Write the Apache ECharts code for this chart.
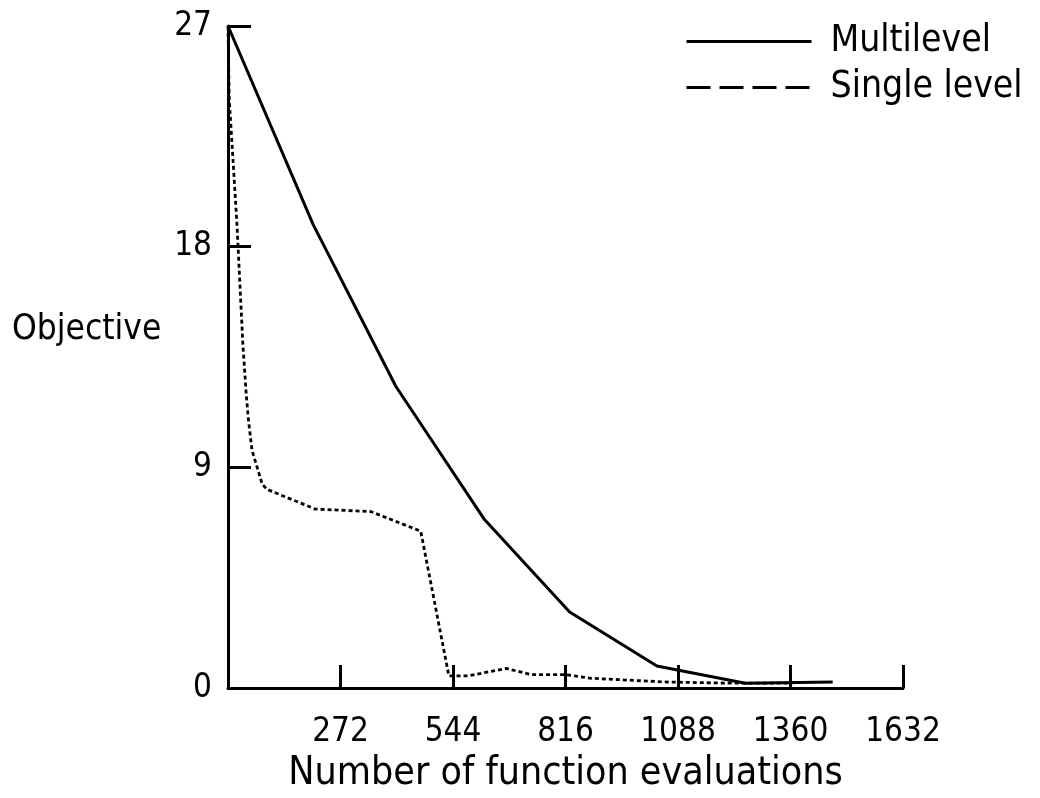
<!DOCTYPE html>
<html>
	<head>
		<meta charset="utf-8">
		<title>Objective vs function evaluations</title>
		<style type="text/css">
			html, body {
				margin: 0;
				padding: 0;
				background: #fff;
			}

			#chart {
				width: 1040px;
				height: 798px;
			}
		</style>
	</head>
	<body>
		<div id="chart"></div>

		<script src="https://cdn.jsdelivr.net/npm/echarts@6/dist/echarts.min.js"></script>
		<script>
			// 数据
			var xTicks = [0, 272, 544, 816, 1088, 1360, 1632];
			var yTicks = [0, 9, 18, 27];

			var multiX = [0, 206, 406, 619, 826, 1037, 1251, 1462];
			var multiY = [27, 18.9, 12.3, 6.9, 3.1, 0.9, 0.2, 0.25];

			var singleX = [0, 3, 13, 22, 29, 36, 44, 49, 58, 83, 95, 211, 345, 466, 534, 580, 673, 733, 814, 879, 1056, 1219, 1365];
			var singleY = [27, 24, 21.3, 18.8, 16.4, 14, 12, 11, 9.7, 8.3, 8.1, 7.3, 7.2, 6.4, 0.5, 0.5, 0.8, 0.55, 0.55, 0.4, 0.25, 0.2, 0.2];

			function pairs(xs, ys) {
				var out = [];
				for (var i = 0; i < xs.length; i++) {
					out.push([xs[i], ys[i]]);
				}
				return out;
			}

			var font = '"DejaVu Sans Condensed", "DejaVu Sans", sans-serif';

			var myChart = echarts.init(document.getElementById('chart'));

			var option = {
				animation: false,
				color: ['#000', '#000'],
				textStyle: {
					fontFamily: font,
					color: '#000'
				},
				legend: {
					orient: 'vertical',
					left: 680,
					top: 18,
					itemWidth: 125,
					itemHeight: 34,
					itemGap: 9,
					itemStyle: { opacity: 0 },
					textStyle: {
						fontFamily: font,
						fontSize: 37,
						color: '#000',
						padding: [0, 0, 0, 14]
					},
					data: [{
						name: 'Multilevel',
						lineStyle: { type: 'solid', width: 3, color: '#000' }
					}, {
						name: 'Single level',
						lineStyle: { type: [24, 9], width: 3, color: '#000' }
					}]
				},
				grid: {
					left: 228,
					top: 26,
					right: 137,
					bottom: 106
				},
				xAxis: {
					type: 'value',
					min: xTicks[0],
					max: xTicks[xTicks.length - 1],
					interval: 272,
					name: 'Number of function evaluations',
					nameLocation: 'middle',
					nameGap: 63,
					nameTextStyle: {
						fontFamily: font,
						fontSize: 39,
						color: '#000'
					},
					axisLine: {
						lineStyle: { color: '#000', width: 3 }
					},
					axisTick: {
						inside: true,
						length: 23,
						lineStyle: { color: '#000', width: 3 }
					},
					axisLabel: {
						margin: 28,
						fontSize: 33,
						color: '#000',
						fontFamily: font,
						formatter: function (v) {
							return v === 0 ? '' : v;
						}
					},
					splitLine: { show: false }
				},
				yAxis: {
					type: 'value',
					min: yTicks[0],
					max: yTicks[yTicks.length - 1],
					interval: 9,
					axisLine: {
						show: true,
						lineStyle: { color: '#000', width: 3 }
					},
					axisTick: {
						show: true,
						inside: true,
						length: 23,
						lineStyle: { color: '#000', width: 3 }
					},
					axisLabel: {
						margin: 16,
						fontSize: 33,
						color: '#000',
						fontFamily: font
					},
					splitLine: { show: false }
				},
				graphic: [{
					type: 'text',
					left: 12,
					top: 312,
					style: {
						text: 'Objective',
						font: '35px ' + font,
						fill: '#000'
					}
				}],
				series: [{
					name: 'Multilevel',
					type: 'line',
					symbol: 'none',
					itemStyle: { color: '#000' },
					lineStyle: { color: '#000', width: 3 },
					data: pairs(multiX, multiY)
				}, {
					name: 'Single level',
					type: 'line',
					symbol: 'none',
					itemStyle: { color: '#000' },
					lineStyle: { color: '#000', width: 2.8, type: [4, 3] },
					data: pairs(singleX, singleY)
				}]
			};

			myChart.setOption(option);
		</script>
	</body>
</html>
